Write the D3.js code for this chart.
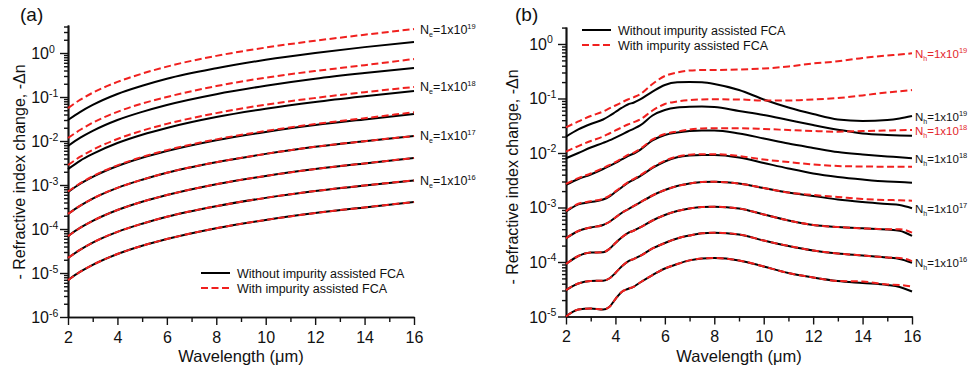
<!DOCTYPE html>
<html>
<head>
<meta charset="utf-8">
<script src="https://cdn.jsdelivr.net/npm/d3@7"></script>
<style>
  body { margin: 0; background: #fff; }
  svg { display: block; font-family: "Liberation Sans", Arial, sans-serif; }
</style>
</head>
<body>
<svg id="chart" width="971" height="374"></svg>
<script>
// ── Wavelength grids (µm) ──
const lambdaA = [2, 2.5, 3, 4, 5, 6, 8, 10, 12, 14, 16];
const lambdaB = [2, 2.5, 3, 3.5, 3.75, 4, 4.25, 4.5, 4.75, 5, 5.5, 6, 6.5, 7, 7.5, 8, 9, 10, 11, 12, 13, 14, 15, 15.5, 16];

// ── (a) electrons: -Δn without / with impurity assisted FCA ──
const ne1e19Without = [0.030, 0.046, 0.066, 0.117, 0.18, 0.26, 0.45, 0.70, 1.0, 1.36, 1.78];
const ne1e19With    = [0.056, 0.087, 0.125, 0.22, 0.34, 0.49, 0.86, 1.33, 1.9, 2.6, 3.5];
const ne3e18Without = [0.0077, 0.0119, 0.017, 0.030, 0.046, 0.066, 0.116, 0.18, 0.26, 0.35, 0.456];
const ne3e18With    = [0.0117, 0.018, 0.026, 0.046, 0.071, 0.10, 0.177, 0.275, 0.39, 0.53, 0.73];
const ne1e18Without = [0.0023, 0.0036, 0.0051, 0.0090, 0.0139, 0.0198, 0.035, 0.054, 0.077, 0.104, 0.137];
const ne1e18With    = [0.00285, 0.0044, 0.0063, 0.0111, 0.0172, 0.0245, 0.043, 0.067, 0.095, 0.129, 0.169];
const ne3e17Without = [6.9e-4, 1.07e-3, 1.53e-3, 2.7e-3, 4.15e-3, 5.9e-3, 0.0104, 0.0161, 0.023, 0.031, 0.041];
const ne3e17With    = [7.1e-4, 1.1e-3, 1.58e-3, 2.8e-3, 4.35e-3, 6.2e-3, 0.0109, 0.0169, 0.0243, 0.033, 0.045];
const ne1e17Without = [2.2e-4, 3.4e-4, 4.9e-4, 8.6e-4, 1.32e-3, 1.9e-3, 3.3e-3, 5.1e-3, 7.4e-3, 9.9e-3, 0.013];
const ne1e17With    = [2.2e-4, 3.4e-4, 4.9e-4, 8.6e-4, 1.32e-3, 1.9e-3, 3.3e-3, 5.1e-3, 7.4e-3, 9.9e-3, 0.013];
const ne3e16Without = [6.9e-5, 1.07e-4, 1.53e-4, 2.7e-4, 4.15e-4, 5.9e-4, 1.04e-3, 1.61e-3, 2.3e-3, 3.1e-3, 4.1e-3];
const ne3e16With    = [6.9e-5, 1.07e-4, 1.53e-4, 2.7e-4, 4.15e-4, 5.9e-4, 1.04e-3, 1.61e-3, 2.3e-3, 3.1e-3, 4.1e-3];
const ne1e16Without = [2.2e-5, 3.4e-5, 4.9e-5, 8.6e-5, 1.32e-4, 1.9e-4, 3.3e-4, 5.1e-4, 7.3e-4, 9.8e-4, 1.27e-3];
const ne1e16With    = [2.2e-5, 3.4e-5, 4.9e-5, 8.6e-5, 1.32e-4, 1.9e-4, 3.3e-4, 5.1e-4, 7.3e-4, 9.8e-4, 1.27e-3];
const ne3e15Without = [6.9e-6, 1.07e-5, 1.53e-5, 2.7e-5, 4.15e-5, 5.9e-5, 1.04e-4, 1.61e-4, 2.3e-4, 3.1e-4, 4.1e-4];
const ne3e15With    = [6.9e-6, 1.07e-5, 1.53e-5, 2.7e-5, 4.15e-5, 5.9e-5, 1.04e-4, 1.61e-4, 2.3e-4, 3.1e-4, 4.1e-4];

// ── (b) holes: -Δn without / with impurity assisted FCA ──
const nh1e19Without = [1.99e-2, 2.70e-2, 3.40e-2, 4.12e-2, 4.77e-2, 5.65e-2, 6.70e-2, 7.76e-2, 8.45e-2, 9.60e-2, 0.134, 0.177, 0.198, 0.201, 0.198, 0.185, 0.143, 9.59e-2, 6.84e-2, 5.19e-2, 4.12e-2, 3.87e-2, 4.03e-2, 4.30e-2, 4.77e-2];
const nh1e19With    = [2.96e-2, 3.79e-2, 4.77e-2, 5.77e-2, 6.56e-2, 7.44e-2, 8.45e-2, 9.59e-2, 0.106, 0.120, 0.185, 0.259, 0.300, 0.327, 0.333, 0.333, 0.340, 0.355, 0.387, 0.439, 0.481, 0.554, 0.615, 0.642, 0.675];
const nh3e18Without = [8.00e-3, 1.00e-2, 1.26e-2, 1.53e-2, 1.70e-2, 1.92e-2, 2.18e-2, 2.48e-2, 2.80e-2, 3.20e-2, 4.88e-2, 6.15e-2, 6.84e-2, 7.07e-2, 7.13e-2, 6.98e-2, 5.90e-2, 4.98e-2, 4.03e-2, 3.26e-2, 2.68e-2, 2.28e-2, 2.14e-2, 2.10e-2, 2.08e-2];
const nh3e18With    = [1.06e-2, 1.34e-2, 1.66e-2, 2.01e-2, 2.28e-2, 2.59e-2, 2.94e-2, 3.33e-2, 3.68e-2, 4.12e-2, 6.02e-2, 7.93e-2, 8.81e-2, 9.38e-2, 9.59e-2, 9.66e-2, 9.59e-2, 9.19e-2, 9.19e-2, 9.59e-2, 0.102, 0.114, 0.129, 0.136, 0.143];
const nh1e18Without = [2.59e-3, 3.33e-3, 4.03e-3, 5.08e-3, 5.77e-3, 6.56e-3, 7.60e-3, 8.81e-3, 9.79e-3, 1.14e-2, 1.70e-2, 2.14e-2, 2.38e-2, 2.53e-2, 2.59e-2, 2.59e-2, 2.28e-2, 1.85e-2, 1.49e-2, 1.24e-2, 1.04e-2, 9.38e-3, 8.63e-3, 8.34e-3, 8.00e-3];
const nh1e18With    = [2.70e-3, 3.46e-3, 4.20e-3, 5.30e-3, 6.00e-3, 6.80e-3, 7.90e-3, 9.20e-3, 1.02e-2, 1.19e-2, 1.77e-2, 2.23e-2, 2.48e-2, 2.70e-2, 2.82e-2, 2.84e-2, 2.84e-2, 2.76e-2, 2.64e-2, 2.53e-2, 2.46e-2, 2.53e-2, 2.59e-2, 2.62e-2, 2.64e-2];
const nh3e17Without = [8.37e-4, 1.14e-3, 1.26e-3, 1.40e-3, 1.59e-3, 1.92e-3, 2.33e-3, 2.82e-3, 3.26e-3, 3.78e-3, 5.31e-3, 6.98e-3, 8.34e-3, 9.00e-3, 9.19e-3, 9.19e-3, 8.27e-3, 6.56e-3, 5.20e-3, 4.21e-3, 3.63e-3, 3.26e-3, 3.00e-3, 2.94e-3, 2.85e-3];
const nh3e17With    = [8.60e-4, 1.17e-3, 1.30e-3, 1.44e-3, 1.64e-3, 1.98e-3, 2.40e-3, 2.90e-3, 3.36e-3, 3.90e-3, 5.47e-3, 7.19e-3, 8.60e-3, 9.30e-3, 9.50e-3, 9.50e-3, 8.81e-3, 7.60e-3, 6.84e-3, 6.15e-3, 5.77e-3, 5.65e-3, 5.61e-3, 5.61e-3, 5.61e-3];
const nh1e17Without = [2.72e-4, 3.71e-4, 4.30e-4, 4.78e-4, 5.42e-4, 6.56e-4, 7.93e-4, 9.19e-4, 1.07e-3, 1.24e-3, 1.66e-3, 2.09e-3, 2.48e-3, 2.75e-3, 2.94e-3, 2.97e-3, 2.75e-3, 2.28e-3, 1.88e-3, 1.63e-3, 1.40e-3, 1.26e-3, 1.16e-3, 1.11e-3, 9.67e-4];
const nh1e17With    = [2.72e-4, 3.71e-4, 4.30e-4, 4.78e-4, 5.42e-4, 6.56e-4, 7.93e-4, 9.19e-4, 1.07e-3, 1.24e-3, 1.66e-3, 2.09e-3, 2.48e-3, 2.75e-3, 2.94e-3, 2.97e-3, 2.75e-3, 2.28e-3, 1.88e-3, 1.70e-3, 1.56e-3, 1.43e-3, 1.37e-3, 1.36e-3, 1.33e-3];
const nh3e16Without = [9.18e-5, 1.29e-4, 1.49e-4, 1.51e-4, 1.73e-4, 2.23e-4, 2.82e-4, 3.40e-4, 3.78e-4, 4.30e-4, 5.77e-4, 7.28e-4, 8.63e-4, 9.59e-4, 1.02e-3, 1.03e-3, 9.59e-4, 7.44e-4, 5.77e-4, 4.78e-4, 4.39e-4, 4.15e-4, 3.95e-4, 3.75e-4, 3.00e-4];
const nh3e16With    = [9.18e-5, 1.29e-4, 1.49e-4, 1.51e-4, 1.73e-4, 2.23e-4, 2.82e-4, 3.40e-4, 3.78e-4, 4.30e-4, 5.77e-4, 7.28e-4, 8.63e-4, 9.59e-4, 1.02e-3, 1.03e-3, 9.59e-4, 7.44e-4, 5.77e-4, 4.78e-4, 4.39e-4, 4.15e-4, 4.00e-4, 4.00e-4, 3.45e-4];
const nh1e16Without = [3.06e-5, 4.03e-5, 4.48e-5, 4.54e-5, 4.98e-5, 6.28e-5, 8.27e-5, 1.02e-4, 1.14e-4, 1.29e-4, 1.77e-4, 2.23e-4, 2.70e-4, 3.06e-4, 3.36e-4, 3.45e-4, 3.20e-4, 2.48e-4, 1.97e-4, 1.63e-4, 1.43e-4, 1.32e-4, 1.21e-4, 1.14e-4, 9.71e-5];
const nh1e16With    = [3.06e-5, 4.03e-5, 4.48e-5, 4.54e-5, 4.98e-5, 6.28e-5, 8.27e-5, 1.02e-4, 1.14e-4, 1.29e-4, 1.77e-4, 2.23e-4, 2.70e-4, 3.06e-4, 3.36e-4, 3.45e-4, 3.20e-4, 2.48e-4, 1.97e-4, 1.63e-4, 1.43e-4, 1.32e-4, 1.21e-4, 1.19e-4, 1.04e-4];
const nh3e15Without = [1.00e-5, 1.34e-5, 1.40e-5, 1.34e-5, 1.49e-5, 2.09e-5, 2.82e-5, 3.20e-5, 3.55e-5, 4.21e-5, 5.77e-5, 7.60e-5, 9.18e-5, 1.07e-4, 1.16e-4, 1.18e-4, 1.07e-4, 8.27e-5, 6.28e-5, 5.20e-5, 4.48e-5, 4.12e-5, 3.79e-5, 3.48e-5, 2.88e-5];
const nh3e15With    = [1.00e-5, 1.34e-5, 1.40e-5, 1.34e-5, 1.49e-5, 2.09e-5, 2.82e-5, 3.20e-5, 3.55e-5, 4.21e-5, 5.77e-5, 7.60e-5, 9.18e-5, 1.07e-4, 1.16e-4, 1.18e-4, 1.07e-4, 8.27e-5, 6.28e-5, 5.20e-5, 4.48e-5, 4.39e-5, 3.87e-5, 3.79e-5, 3.55e-5];

// ── Axis ticks and text ──
const xTicks = [2, 4, 6, 8, 10, 12, 14, 16];
const xMinorTicks = [3, 5, 7, 9, 11, 13, 15];
const yExponentsA = [0, -1, -2, -3, -4, -5, -6];
const yExponentsB = [0, -1, -2, -3, -4, -5];
const xTitle = "Wavelength (\u03bcm)";
const yTitle = "- Refractive index change, -\u0394n";
const legendText = ["Without impurity assisted FCA", "With impurity assisted FCA"];

// pairs of [without, with], highest density first
const pairsA = [
    [ne1e19Without, ne1e19With], [ne3e18Without, ne3e18With],
    [ne1e18Without, ne1e18With], [ne3e17Without, ne3e17With],
    [ne1e17Without, ne1e17With], [ne3e16Without, ne3e16With],
    [ne1e16Without, ne1e16With], [ne3e15Without, ne3e15With]
];
const pairsB = [
    [nh1e19Without, nh1e19With], [nh3e18Without, nh3e18With],
    [nh1e18Without, nh1e18With], [nh3e17Without, nh3e17With],
    [nh1e17Without, nh1e17With], [nh3e16Without, nh3e16With],
    [nh1e16Without, nh1e16With], [nh3e15Without, nh3e15With]
];

// density labels: which pair, which curve (0 = without, 1 = with), exponent
const labelsA = [[0, 1, "19"], [2, 1, "18"], [4, 1, "17"], [6, 1, "16"]];
const labelsB = [[0, 1, "19"], [0, 0, "19"], [2, 1, "18"], [2, 0, "18"], [4, 0, "17"], [6, 0, "16"]];

const RED = "#f0201e";
const svg = d3.select("#chart");

function drawPanel(p) {
    const x = d3.scaleLinear().domain([2, 16]).range([p.left, p.right]);
    const y = d3.scaleLog().domain([p.yMin, p.yMax]).range([p.bottom, p.top]);
    const g = svg.append("g");

    // minor log ticks (2..9 in every decade)
    const minor = [];
    for (let e = Math.floor(Math.log10(p.yMin)); e <= 0; e++)
        for (let k = 2; k <= 9; k++) {
            const v = k * Math.pow(10, e);
            if (v > p.yMin && v < p.yMax) minor.push(v);
        }

    g.append("g").attr("transform", `translate(0,${p.bottom})`)
        .call(d3.axisBottom(x).tickValues(xMinorTicks).tickSize(5).tickSizeOuter(0).tickFormat(""));
    g.append("g").attr("transform", `translate(0,${p.bottom})`)
        .call(d3.axisBottom(x).tickValues(xTicks).tickSize(8).tickSizeOuter(0).tickPadding(6.5))
        .call(a => a.selectAll("text").attr("font-size", 16).attr("font-family", null).attr("fill", "#111"));
    g.append("g").attr("transform", `translate(${p.left},0)`)
        .call(d3.axisLeft(y).tickValues(minor).tickSize(4).tickSizeOuter(0).tickFormat(""));
    g.append("g").attr("transform", `translate(${p.left},0)`)
        .call(d3.axisLeft(y).tickValues(p.exps.map(e => Math.pow(10, e))).tickSize(8).tickSizeOuter(0).tickFormat(""));

    g.selectAll(".domain").attr("stroke", "#111").attr("stroke-width", 1.7);
    g.selectAll(".tick line").attr("stroke", "#111").attr("stroke-width", 1.4);

    // decade labels 10^n
    p.exps.forEach(e => {
        const ty = y(Math.pow(10, e));
        g.append("text").attr("x", p.left - 19).attr("y", ty + 6)
            .attr("text-anchor", "end").attr("font-size", 16).attr("fill", "#111").text("10");
        g.append("text").attr("x", p.left - 19).attr("y", ty - 0.5)
            .attr("font-size", 10.5).attr("fill", "#111").text(String(e));
    });

    // axis titles
    g.append("text").attr("x", (p.left + p.right) / 2).attr("y", 362)
        .attr("text-anchor", "middle").attr("font-size", 16.5).attr("fill", "#111").text(xTitle);
    g.append("text").attr("transform", `translate(${p.yTitleX},${p.yTitleY}) rotate(-90)`)
        .attr("text-anchor", "middle").attr("font-size", 16).attr("fill", "#111").text(yTitle);
    g.append("text").attr("x", p.tagX).attr("y", 21)
        .attr("font-size", 19).attr("fill", "#111").text(p.tag);

    // curves: all solid ones first, dashed ones on top
    const line = d3.line().x(d => x(d[0])).y(d => y(d[1])).curve(d3.curveMonotoneX);
    const pts = vals => p.lambda.map((l, i) => [l, vals[i]]);
    p.pairs.forEach(pr => g.append("path").attr("d", line(pts(pr[0])))
        .attr("fill", "none").attr("stroke", "#000").attr("stroke-width", 2));
    p.pairs.forEach(pr => g.append("path").attr("d", line(pts(pr[1])))
        .attr("fill", "none").attr("stroke", RED).attr("stroke-width", 2).attr("stroke-dasharray", "7,3.5"));

    // density labels at the right end of the curves
    p.labels.forEach(([pi, which, exp]) => {
        const vals = p.pairs[pi][which];
        const ly = y(vals[vals.length - 1]);
        const t = g.append("text").attr("x", p.right + p.labelGap).attr("y", ly + 4.5)
            .attr("font-size", p.labelSize).attr("fill", p.redLabels && which === 1 ? "#e3262a" : "#111");
        t.append("tspan").text("N");
        t.append("tspan").attr("font-size", 7).attr("dy", 3).text(p.sub);
        t.append("tspan").attr("dy", -3).text("=1x10");
        t.append("tspan").attr("font-size", 7.5).attr("dy", -5).text(exp);
    });

    // legend
    legendText.forEach((txt, i) => {
        const ly = p.legendY + i * 15;
        g.append("line").attr("x1", p.legendX).attr("x2", p.legendX + 29).attr("y1", ly).attr("y2", ly)
            .attr("stroke", i ? RED : "#000").attr("stroke-width", 2)
            .attr("stroke-dasharray", i ? "7,3.5" : null);
        g.append("text").attr("x", p.legendX + 36).attr("y", ly + 4.5)
            .attr("font-size", 12.5).attr("fill", "#111").text(txt);
    });
}

drawPanel({
    tag: "(a)", tagX: 20, left: 68, right: 414, top: 25, bottom: 317,
    yMin: 1e-6, yMax: 4.33, exps: yExponentsA, yTitleX: 25, yTitleY: 172,
    lambda: lambdaA, pairs: pairsA, labels: labelsA, sub: "e", labelGap: 6, labelSize: 12.5, redLabels: false,
    legendX: 201, legendY: 273
});
drawPanel({
    tag: "(b)", tagX: 515, left: 566, right: 912, top: 27, bottom: 316.5,
    yMin: 1e-5, yMax: 2.05, exps: yExponentsB, yTitleX: 518, yTitleY: 177,
    lambda: lambdaB, pairs: pairsB, labels: labelsB, sub: "h", labelGap: 3, labelSize: 11.5, redLabels: true,
    legendX: 582, legendY: 30
});
</script>
</body>
</html>
